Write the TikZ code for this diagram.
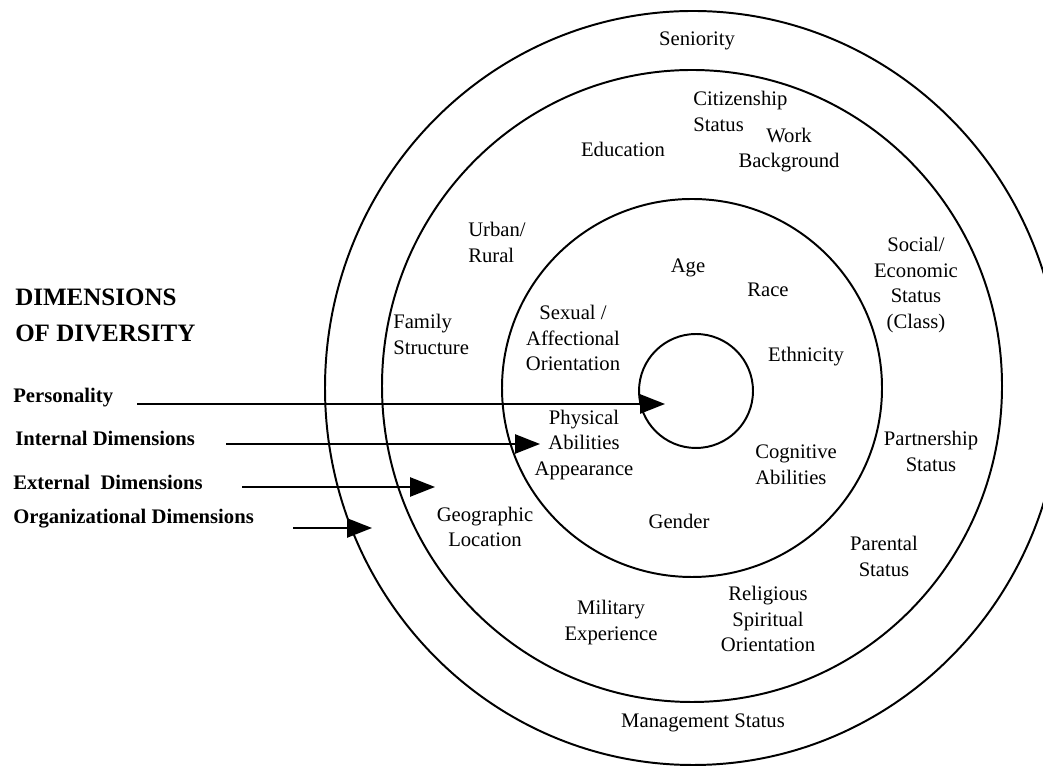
\documentclass[tikz,border=0pt]{standalone}
\usepackage{fontspec}
\setmainfont{Liberation Serif}
\usetikzlibrary{arrows.meta}

\begin{document}
\begin{tikzpicture}[
        every node/.style={inner sep=0pt, font=\fontsize{14.7}{18.2}\selectfont},
        lbl/.style={align=center},
        lbl_left/.style={align=left, anchor=west},
        side/.style={anchor=west, font=\fontsize{14.7}{18.2}\selectfont\bfseries},
        ring/.style={line width=1.4pt},
        pointer/.style={line width=1.4pt, -{Triangle[length=0.625cm,width=0.48cm]}}]
        \clip (0,0) rectangle (26.075,19.15);
        % the rings, outermost first
        \draw[ring] (17.325,9.45) ellipse [x radius=9.2, y radius=9.425];
        \draw[ring] (17.3,9.5) ellipse [x radius=7.75, y radius=7.9];
        \draw[ring] (17.3,9.45) ellipse [x radius=4.75, y radius=4.725];
        \draw[ring] (17.4,9.375) circle [radius=1.425];
        % organizational ring
        \node (seniority) at (17.425,18.125) {Seniority};
        \node (mgmt) at (17.575,1.075) {Management Status};
        % external ring
        \node[lbl_left] (citizen) at (17.325,16.3625) {Citizenship\\Status};
        \node (educ) at (15.575,15.425) {Education};
        \node[lbl] (work) at (19.725,15.4) {Work\\Background};
        \node[lbl_left] (urban) at (11.7,13.0875) {Urban/\\Rural};
        \node[lbl_left] (family) at (9.825,10.7875) {Family\\Structure};
        \node[lbl] (social) at (22.9,12.025) {Social/\\Economic\\Status\\(Class)};
        \node[lbl] (partner) at (23.275,7.8625) {Partnership\\Status};
        \node[lbl] (parental) at (22.1,5.2375) {Parental\\Status};
        \node[lbl] (geo) at (12.125,5.975) {Geographic\\Location};
        \node[lbl] (military) at (15.275,3.5875) {Military\\Experience};
        \node[lbl] (religious) at (19.2,3.675) {Religious\\Spiritual\\Orientation};
        % internal ring
        \node (age) at (17.2,12.45) {Age};
        \node (race) at (19.2,11.9) {Race};
        \node (ethnic) at (20.15,10.225) {Ethnicity};
        \node[lbl] (sexual) at (14.325,10.7) {Sexual /\\Affectional\\Orientation};
        \node[lbl] (physical) at (14.6,8.025) {Physical\\Abilities\\Appearance};
        \node[lbl_left] (cognitive) at (18.875,7.5375) {Cognitive\\Abilities};
        \node (gender) at (16.975,6.125) {Gender};
        % legend on the left
        \node[side, align=left, font=\fontsize{17.8}{25.5}\selectfont\bfseries] (title) at (0.375,11.275) {DIMENSIONS\\OF DIVERSITY};
        \node[side] (pers) at (0.325,9.2) {Personality};
        \node[side] (intl) at (0.375,8.2) {Internal Dimensions};
        \node[side] (extl) at (0.325,7.1) {External~~Dimensions};
        \node[side] (orgl) at (0.325,6.175) {Organizational Dimensions};
        \coordinate (pers_start) at (3.425,9.05);
        \coordinate (pers_end) at (16.625,9.05);
        \coordinate (intl_start) at (5.65,8.05);
        \coordinate (intl_end) at (13.5,8.05);
        \coordinate (extl_start) at (6.05,6.975);
        \coordinate (extl_end) at (10.875,6.975);
        \coordinate (orgl_start) at (7.325,5.95);
        \coordinate (orgl_end) at (9.3,5.95);
        \draw[pointer] (pers_start) -- (pers_end);
        \draw[pointer] (intl_start) -- (intl_end);
        \draw[pointer] (extl_start) -- (extl_end);
        \draw[pointer] (orgl_start) -- (orgl_end);
\end{tikzpicture}
\end{document}
